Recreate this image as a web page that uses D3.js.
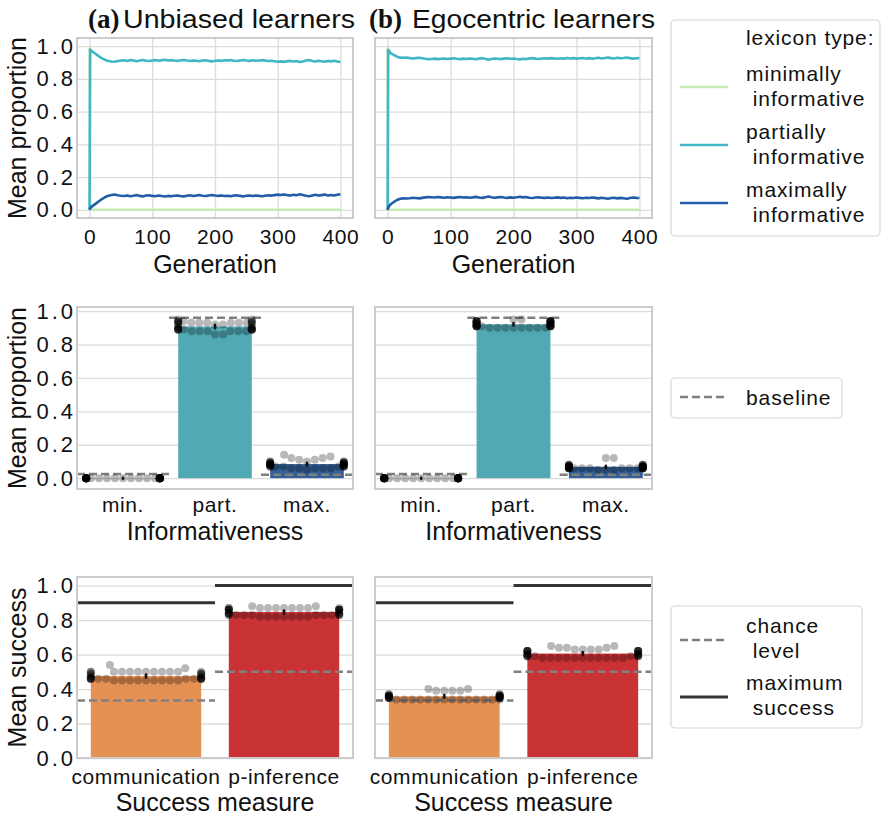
<!DOCTYPE html>
<html>
<head>
<meta charset="utf-8">
<script src="https://cdn.jsdelivr.net/npm/d3@7"></script>
<style>
  body { margin: 0; background: #fff; }
  text { font-family: "Liberation Sans", Arial, sans-serif; fill: #111; }
</style>
</head>
<body>
<svg id="chart" width="883" height="817"></svg>
<script>
// ---- data ----
const generations = [0, 1, 2, 3].concat(d3.range(5, 401, 5));

const minimalProportion = [1,
  0, 0, 0, 0, 0, 0, 0, 0, 0, 0, 0, 0,
  0, 0, 0, 0, 0, 0, 0, 0, 0, 0, 0,
  0, 0, 0, 0, 0, 0, 0, 0, 0, 0,
  0, 0, 0, 0, 0, 0, 0, 0, 0, 0,
  0, 0, 0, 0, 0, 0, 0, 0, 0, 0,
  0, 0, 0, 0, 0, 0, 0, 0, 0, 0,
  0, 0, 0, 0, 0, 0, 0, 0, 0, 0,
  0, 0, 0, 0, 0, 0, 0, 0, 0, 0];

const unbiasedPartial = [0, 0.980, 0.977, 0.972, 0.966, 0.952, 0.938, 0.926, 0.916, 0.910, 0.906, 0.905, 0.909,
  0.912, 0.914, 0.910, 0.915, 0.912, 0.908, 0.913, 0.916, 0.911, 0.909, 0.913,
  0.915, 0.911, 0.914, 0.917, 0.913, 0.915, 0.912, 0.910, 0.914, 0.916,
  0.912, 0.909, 0.913, 0.911, 0.908, 0.912, 0.914, 0.910, 0.907, 0.911,
  0.913, 0.910, 0.914, 0.912, 0.915, 0.911, 0.909, 0.913, 0.916, 0.912,
  0.910, 0.914, 0.911, 0.913, 0.915, 0.912, 0.909, 0.911, 0.908, 0.905,
  0.907, 0.904, 0.908, 0.910, 0.906, 0.909, 0.903, 0.907, 0.912, 0.915,
  0.910, 0.906, 0.911, 0.908, 0.905, 0.910, 0.907, 0.911, 0.906, 0.903];

const unbiasedMaximal = [0, 0.010, 0.014, 0.018, 0.024, 0.038, 0.052, 0.066, 0.078, 0.086, 0.091, 0.093, 0.089,
  0.086, 0.084, 0.088, 0.083, 0.086, 0.090, 0.085, 0.082, 0.087, 0.089, 0.085,
  0.083, 0.087, 0.084, 0.081, 0.085, 0.083, 0.086, 0.088, 0.084, 0.082,
  0.086, 0.089, 0.085, 0.087, 0.090, 0.086, 0.084, 0.088, 0.091, 0.087,
  0.085, 0.088, 0.084, 0.086, 0.083, 0.087, 0.089, 0.085, 0.082, 0.086,
  0.088, 0.084, 0.087, 0.085, 0.083, 0.086, 0.089, 0.087, 0.090, 0.093,
  0.091, 0.094, 0.090, 0.088, 0.092, 0.089, 0.095, 0.091, 0.086, 0.083,
  0.088, 0.092, 0.087, 0.090, 0.093, 0.088, 0.091, 0.087, 0.092, 0.095];

const egocentricPartial = [0, 0.978, 0.972, 0.966, 0.958, 0.946, 0.936, 0.930, 0.929, 0.930, 0.928, 0.925, 0.927,
  0.929, 0.926, 0.923, 0.921, 0.922, 0.924, 0.921, 0.923, 0.925, 0.922, 0.924,
  0.926, 0.923, 0.921, 0.924, 0.922, 0.925, 0.923, 0.920, 0.924, 0.926,
  0.923, 0.917, 0.922, 0.925, 0.923, 0.921, 0.924, 0.926, 0.923, 0.925,
  0.922, 0.919, 0.923, 0.921, 0.925, 0.927, 0.924, 0.922, 0.925, 0.926,
  0.924, 0.927, 0.925, 0.923, 0.926, 0.924, 0.928, 0.925, 0.927, 0.924,
  0.926, 0.928, 0.925, 0.927, 0.924, 0.926, 0.929, 0.925, 0.928, 0.931,
  0.927, 0.925, 0.929, 0.926, 0.928, 0.931, 0.927, 0.924, 0.926, 0.927];

const egocentricMaximal = [0, 0.012, 0.020, 0.026, 0.034, 0.048, 0.060, 0.068, 0.070, 0.069, 0.071, 0.074, 0.072,
  0.070, 0.073, 0.076, 0.078, 0.077, 0.075, 0.078, 0.076, 0.074, 0.077, 0.075,
  0.073, 0.076, 0.078, 0.075, 0.077, 0.074, 0.076, 0.079, 0.075, 0.073,
  0.076, 0.082, 0.077, 0.074, 0.076, 0.078, 0.075, 0.073, 0.076, 0.074,
  0.077, 0.080, 0.076, 0.078, 0.074, 0.072, 0.075, 0.077, 0.074, 0.073,
  0.075, 0.072, 0.074, 0.076, 0.073, 0.075, 0.071, 0.074, 0.072, 0.075,
  0.073, 0.071, 0.074, 0.072, 0.075, 0.073, 0.070, 0.074, 0.071, 0.068,
  0.072, 0.074, 0.070, 0.073, 0.071, 0.068, 0.072, 0.075, 0.073, 0.072];

const lexiconTypes = ["minimally\n informative", "partially\n informative", "maximally\n informative"];
const lexiconColors = ["#c7e9b4", "#41b6c4", "#225ea8"];

const informativeness = ["min.", "part.", "max."];
const baselineProportion = [0.025, 0.96, 0.02];

const unbiasedMinRuns = [0, 0, 0, 0, 0, 0, 0, 0, 0, 0, 0, 0, 0, 0, 0, 0, 0, 0,
  0, 0, 0, 0, 0, 0, 0, 0, 0, 0, 0, 0, 0, 0, 0, 0, 0, 0,
  0, 0, 0, 0, 0, 0, 0, 0, 0, 0, 0, 0];
const unbiasedPartRuns = [0.93, 0.89, 0.94, 0.88, 0.93, 0.89, 0.90, 0.92, 0.95, 0.89, 0.93, 0.88,
  0.94, 0.89, 0.86, 0.93, 0.90, 0.89, 0.92, 0.94, 0.88, 0.93, 0.89, 0.90,
  0.93, 0.89, 0.95, 0.88, 0.94, 0.92, 0.89, 0.93, 0.90, 0.86, 0.89, 0.93,
  0.88, 0.94, 0.89, 0.90, 0.93, 0.92, 0.89, 0.94, 0.88, 0.93, 0.90, 0.89];
const unbiasedMaxRuns = [0.07, 0.08, 0.09, 0.10, 0.11, 0.12, 0.13, 0.14, 0.09, 0.08, 0.07, 0.06,
  0.08, 0.09, 0.10, 0.12, 0.11, 0.08, 0.07, 0.09, 0.06, 0.07, 0.08, 0.10,
  0.09, 0.05, 0.07, 0.08, 0.09, 0.06, 0.08, 0.07, 0.10, 0.09, 0.08, 0.07,
  0.08, 0.07, 0.06, 0.09, 0.08, 0.07, 0.10, 0.08, 0.07, 0.06, 0.08, 0.09];
const egocentricMinRuns = [0, 0, 0, 0, 0, 0, 0, 0, 0, 0, 0, 0, 0, 0, 0, 0, 0, 0,
  0, 0, 0, 0, 0, 0, 0, 0, 0, 0, 0, 0, 0, 0, 0, 0, 0, 0,
  0, 0, 0, 0, 0, 0, 0, 0, 0, 0, 0, 0];
const egocentricPartRuns = [0.94, 0.91, 0.90, 0.94, 0.92, 0.91, 0.94, 0.90, 0.93, 0.91, 0.94, 0.92,
  0.91, 0.95, 0.90, 0.94, 0.91, 0.92, 0.94, 0.91, 0.90, 0.93, 0.94, 0.91,
  0.92, 0.94, 0.90, 0.91, 0.94, 0.92, 0.93, 0.91, 0.94, 0.90, 0.91, 0.92,
  0.94, 0.91, 0.95, 0.90, 0.92, 0.94, 0.91, 0.93, 0.92, 0.94, 0.91, 0.90];
const egocentricMaxRuns = [0.06, 0.07, 0.06, 0.07, 0.08, 0.06, 0.07, 0.06, 0.05, 0.07, 0.06, 0.12,
  0.12, 0.07, 0.06, 0.07, 0.08, 0.06, 0.07, 0.06, 0.07, 0.06, 0.05, 0.06,
  0.07, 0.08, 0.07, 0.06, 0.07, 0.06, 0.07, 0.06, 0.07, 0.08, 0.06, 0.07,
  0.06, 0.07, 0.08, 0.06, 0.07, 0.06, 0.05, 0.07, 0.08, 0.06, 0.07, 0.06];

const successMeasures = ["communication", "p-inference"];
const successColors = ["#fd8d3c", "#e31a1c"];
const chanceLevel = [1 / 3, 0.5];
const maximumSuccess = [0.9, 1.0];

const unbiasedCommRuns = [0.50, 0.46, 0.49, 0.45, 0.50, 0.46, 0.54, 0.46, 0.50, 0.47, 0.45, 0.49,
  0.50, 0.46, 0.52, 0.45, 0.50, 0.46, 0.49, 0.47, 0.50, 0.46, 0.45, 0.48,
  0.50, 0.46, 0.49, 0.45, 0.50, 0.46, 0.47, 0.46, 0.50, 0.45, 0.49, 0.46,
  0.50, 0.46, 0.45, 0.47, 0.50, 0.46, 0.48, 0.45, 0.50, 0.46, 0.45, 0.46];
const unbiasedInfRuns = [0.87, 0.83, 0.86, 0.82, 0.87, 0.84, 0.86, 0.83, 0.88, 0.82, 0.87, 0.83,
  0.86, 0.84, 0.87, 0.82, 0.86, 0.83, 0.87, 0.84, 0.86, 0.82, 0.88, 0.83,
  0.87, 0.83, 0.86, 0.84, 0.87, 0.82, 0.86, 0.83, 0.87, 0.84, 0.86, 0.82,
  0.87, 0.83, 0.86, 0.84, 0.87, 0.82, 0.86, 0.83, 0.86, 0.83, 0.84, 0.83];
const egocentricCommRuns = [0.36, 0.34, 0.35, 0.39, 0.36, 0.34, 0.37, 0.35, 0.36, 0.40, 0.34, 0.36,
  0.35, 0.39, 0.34, 0.36, 0.37, 0.35, 0.34, 0.36, 0.39, 0.35, 0.34, 0.36,
  0.40, 0.34, 0.36, 0.35, 0.37, 0.34, 0.36, 0.35, 0.39, 0.34, 0.36, 0.35,
  0.34, 0.36, 0.37, 0.34, 0.36, 0.35, 0.34, 0.36, 0.34, 0.36, 0.35, 0.34];
const egocentricInfRuns = [0.62, 0.58, 0.60, 0.63, 0.59, 0.62, 0.64, 0.58, 0.60, 0.62, 0.59, 0.65,
  0.58, 0.62, 0.60, 0.63, 0.58, 0.62, 0.59, 0.64, 0.60, 0.58, 0.62, 0.59,
  0.62, 0.58, 0.60, 0.63, 0.59, 0.62, 0.65, 0.58, 0.60, 0.62, 0.59, 0.64,
  0.58, 0.62, 0.60, 0.63, 0.58, 0.62, 0.59, 0.58, 0.60, 0.62, 0.59, 0.58];

// ---- layout ----
const svg = d3.select("#chart");
const cols = [[77, 353], [375, 652]];
const rows = { top: [38, 218], mid: [307, 489], bot: [577, 758] };
const TICK = 21, LABEL = 25, LEG = 21;

function desat(c) {
  const h = d3.hsl(c);
  h.s *= 0.75;
  return h.formatHex();
}

function frame(x0, x1, y0, y1) {
  svg.append("rect")
    .attr("x", x0).attr("y", y0)
    .attr("width", x1 - x0).attr("height", y1 - y0)
    .attr("fill", "none")
    .attr("stroke", "#cccccc")
    .attr("stroke-width", 2);
}

function gridY(y, x0, x1, ticks) {
  svg.append("g")
    .attr("transform", `translate(${x0},0)`)
    .call(d3.axisLeft(y).tickValues(ticks).tickSize(-(x1 - x0)).tickFormat(""))
    .call(g => g.select(".domain").remove())
    .selectAll("line").attr("stroke", "#dcdcdc").attr("stroke-width", 1.3);
}

function gridX(x, y0, y1, ticks) {
  svg.append("g")
    .attr("transform", `translate(0,${y1})`)
    .call(d3.axisBottom(x).tickValues(ticks).tickSize(-(y1 - y0)).tickFormat(""))
    .call(g => g.select(".domain").remove())
    .selectAll("line").attr("stroke", "#dcdcdc").attr("stroke-width", 1.3);
}

function leftTicks(y, x0, ticks) {
  svg.append("g")
    .attr("transform", `translate(${x0},0)`)
    .call(d3.axisLeft(y).tickValues(ticks).tickSize(0).tickPadding(1).tickFormat(d3.format(".1f")))
    .call(g => g.select(".domain").remove())
    .selectAll("text")
    .attr("font-family", null)
    .attr("font-size", 22)
    .style("letter-spacing", "3px")
    .attr("fill", "#111");
}

// ticks placed with their baseline at yBase
function bottomTicks(x, yBase, ticks, fmt) {
  const ax = d3.axisBottom(x).tickSize(0).tickPadding(0);
  if (ticks) ax.tickValues(ticks);
  if (fmt) ax.tickFormat(fmt);
  svg.append("g")
    .attr("transform", `translate(0,${yBase})`)
    .call(ax)
    .call(g => g.select(".domain").remove())
    .selectAll("text")
    .attr("y", 0)
    .attr("dy", null)
    .attr("font-family", null)
    .attr("font-size", TICK)
    .style("letter-spacing", "0.6px")
    .attr("fill", "#111");
}

function xLabel(text, x0, x1, yb) {
  svg.append("text")
    .attr("x", (x0 + x1) / 2).attr("y", yb)
    .attr("text-anchor", "middle")
    .attr("font-size", LABEL)
    .text(text);
}

function yLabel(text, y0, y1) {
  svg.append("text")
    .attr("transform", `translate(26,${(y0 + y1) / 2}) rotate(-90)`)
    .attr("text-anchor", "middle")
    .attr("font-size", LABEL)
    .text(text);
}

// ---- titles ----
const titles = [
  { tag: "(a)", text: "Unbiased learners", tagX: 88, x: 123, len: 232 },
  { tag: "(b)", text: "Egocentric learners", tagX: 369, x: 412, len: 243 }
];
titles.forEach(t => {
  svg.append("text")
    .attr("x", t.tagX).attr("y", 28)
    .style("font-family", '"Liberation Serif", "Times New Roman", serif')
    .attr("font-weight", "bold")
    .attr("font-size", 27)
    .text(t.tag);
  svg.append("text")
    .attr("x", t.x).attr("y", 28)
    .attr("font-size", 26)
    .attr("textLength", t.len)
    .attr("lengthAdjust", "spacingAndGlyphs")
    .text(t.text);
});

// ---- top row: lexicon proportions over generations ----
const lineSets = [
  [minimalProportion, unbiasedPartial, unbiasedMaximal],
  [minimalProportion, egocentricPartial, egocentricMaximal]
];
const propTicks = [0, 0.2, 0.4, 0.6, 0.8, 1.0];

lineSets.forEach((sets, ci) => {
  const [x0, x1] = cols[ci];
  const [y0, y1] = rows.top;
  const x = d3.scaleLinear().domain([-20, 420]).range([x0, x1]);
  const y = d3.scaleLinear().domain([-0.05, 1.05]).range([y1, y0]);
  gridY(y, x0, x1, propTicks);
  gridX(x, y0, y1, [0, 100, 200, 300, 400]);
  const line = d3.line().x((d, i) => x(generations[i])).y(d => y(d));
  sets.forEach((s, k) => {
    svg.append("path")
      .datum(s)
      .attr("d", line)
      .attr("fill", "none")
      .attr("stroke", lexiconColors[k])
      .attr("stroke-width", 2.6)
      .attr("stroke-linejoin", "round");
  });
  frame(x0, x1, y0, y1);
  if (ci === 0) leftTicks(y, x0, propTicks);
  bottomTicks(x, 244, [0, 100, 200, 300, 400], d3.format("d"));
  xLabel("Generation", x0, x1, 273);
});

// ---- swarm helper ----
function swarm(values, cx, y, half, r) {
  const sorted = values.slice().sort(d3.ascending);
  const placed = [];
  sorted.forEach(v => {
    const py = y(v);
    const cands = [0];
    placed.forEach(p => {
      const dy = Math.abs(p.y - py);
      if (dy < 2 * r) {
        const dx = Math.sqrt(4 * r * r - dy * dy);
        cands.push(p.off + dx, p.off - dx);
      }
    });
    cands.sort((a, b) => Math.abs(a) - Math.abs(b));
    let off = cands[0];
    for (const c of cands) {
      const ok = placed.every(p => (p.off - c) ** 2 + (p.y - py) ** 2 >= 4 * r * r - 0.01);
      if (ok) { off = c; break; }
    }
    placed.push({ off, y: py, v });
  });
  return placed.map(p => ({ x: cx + Math.max(-half, Math.min(half, p.off)), y: p.y }));
}

function barPanel(runsList, cats, colors, x0, x1, y0, y1, yDomain, refLines) {
  const x = d3.scaleBand().domain(cats).range([x0, x1]).paddingInner(0.2).paddingOuter(0.1);
  const y = d3.scaleLinear().domain(yDomain).range([y1, y0]);
  const step = x.step();
  gridY(y, x0, x1, propTicks);
  const means = runsList.map(r => d3.mean(r));
  svg.append("g").selectAll("rect")
    .data(cats)
    .join("rect")
    .attr("x", d => x(d))
    .attr("width", x.bandwidth())
    .attr("y", (d, i) => Math.min(y(means[i]), y(0)))
    .attr("height", (d, i) => Math.abs(y(0) - y(means[i])))
    .attr("fill", (d, i) => desat(colors[i]));
  refLines.forEach(rl => {
    svg.append("g").selectAll("line")
      .data(cats)
      .join("line")
      .attr("x1", d => x(d) - (step - x.bandwidth()) / 2)
      .attr("x2", d => x(d) + x.bandwidth() + (step - x.bandwidth()) / 2)
      .attr("y1", (d, i) => y(rl.values[i]))
      .attr("y2", (d, i) => y(rl.values[i]))
      .attr("stroke", rl.color)
      .attr("stroke-width", rl.width)
      .attr("stroke-dasharray", rl.dash);
  });
  runsList.forEach((runs, i) => {
    const cx = x(cats[i]) + x.bandwidth() / 2;
    const pts = swarm(runs, cx, y, x.bandwidth() / 2, 4);
    svg.append("g").selectAll("circle")
      .data(pts)
      .join("circle")
      .attr("cx", d => d.x)
      .attr("cy", d => d.y)
      .attr("r", 4)
      .attr("fill", "#000")
      .attr("fill-opacity", 0.28);
    const m = means[i];
    const se = d3.deviation(runs) / Math.sqrt(runs.length) || 0;
    svg.append("line")
      .attr("x1", cx).attr("x2", cx)
      .attr("y1", y(m - 1.96 * se) + 0.5).attr("y2", y(m + 1.96 * se) - 0.5)
      .attr("stroke", "#111")
      .attr("stroke-width", 2.5)
      .attr("stroke-linecap", "round");
  });
  frame(x0, x1, y0, y1);
  return { x, y };
}

// ---- middle row: proportion by informativeness ----
const midRuns = [
  [unbiasedMinRuns, unbiasedPartRuns, unbiasedMaxRuns],
  [egocentricMinRuns, egocentricPartRuns, egocentricMaxRuns]
];
midRuns.forEach((runs, ci) => {
  const [x0, x1] = cols[ci];
  const [y0, y1] = rows.mid;
  const { x, y } = barPanel(runs, informativeness, lexiconColors, x0, x1, y0, y1, [-0.065, 1.025],
    [{ values: baselineProportion, color: "#808080", width: 2.5, dash: "8,4" }]);
  if (ci === 0) leftTicks(y, x0, propTicks);
  bottomTicks(x, 512, null, null);
  xLabel("Informativeness", x0, x1, 540);
});

// ---- bottom row: success ----
const botRuns = [
  [unbiasedCommRuns, unbiasedInfRuns],
  [egocentricCommRuns, egocentricInfRuns]
];
botRuns.forEach((runs, ci) => {
  const [x0, x1] = cols[ci];
  const [y0, y1] = rows.bot;
  const { x, y } = barPanel(runs, successMeasures, successColors, x0, x1, y0, y1, [0, 1.05],
    [{ values: chanceLevel, color: "#808080", width: 2.5, dash: "8,4" },
     { values: maximumSuccess, color: "#333333", width: 3, dash: null }]);
  if (ci === 0) leftTicks(y, x0, propTicks);
  bottomTicks(x, 784, null, null);
  xLabel("Success measure", x0, x1, 811);
});

yLabel("Mean proportion", rows.top[0], rows.top[1]);
yLabel("Mean proportion", rows.mid[0], rows.mid[1]);
yLabel("Mean success", rows.bot[0], rows.bot[1]);

// ---- legends ----
function legend(box, header, items) {
  const g = svg.append("g");
  g.append("rect")
    .attr("x", box.x).attr("y", box.y)
    .attr("width", box.w).attr("height", box.h)
    .attr("rx", 4)
    .attr("fill", "#fff")
    .attr("stroke", "#d6d6d6")
    .attr("stroke-width", 1.2);
  if (header) {
    g.append("text").attr("x", 746).attr("y", header.y)
      .attr("font-size", LEG).style("letter-spacing", "0.9px").text(header.text);
  }
  items.forEach(it => {
    g.append("line")
      .attr("x1", 680).attr("x2", 728)
      .attr("y1", it.ly).attr("y2", it.ly)
      .attr("stroke", it.color)
      .attr("stroke-width", it.width)
      .attr("stroke-dasharray", it.dash);
    it.label.split("\n").forEach((ln, j) => {
      g.append("text")
        .attr("x", 746).attr("y", it.ty + j * 25)
        .attr("font-size", LEG)
        .style("letter-spacing", "0.9px")
        .style("white-space", "pre")
        .text(ln);
    });
  });
}

legend({ x: 671, y: 20, w: 209, h: 216 }, { text: "lexicon type:", y: 45 },
  lexiconTypes.map((t, i) => ({ label: t, color: lexiconColors[i], width: 2.6, dash: null, ly: 87 + i * 58, ty: 81 + i * 58 })));

legend({ x: 671, y: 378, w: 171, h: 40 }, null,
  [{ label: "baseline", color: "#808080", width: 2.5, dash: "8,4", ly: 397, ty: 405 }]);

legend({ x: 671, y: 606, w: 191, h: 122 }, null, [
  { label: "chance\n level", color: "#808080", width: 2.5, dash: "8,4", ly: 640, ty: 633 },
  { label: "maximum\n success", color: "#333333", width: 3, dash: null, ly: 697, ty: 690 }
]);
</script>
</body>
</html>
